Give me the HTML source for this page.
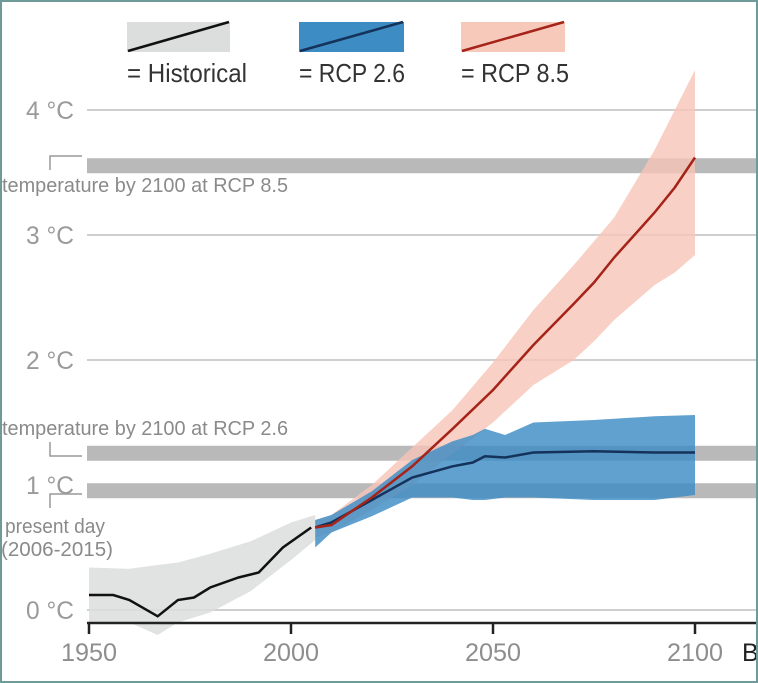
<!DOCTYPE html>
<html><head><meta charset="utf-8"><style>
html,body{margin:0;padding:0;background:#fff;}
body{width:758px;height:683px;overflow:hidden;position:relative;}
svg{position:absolute;left:0;top:0;}
text{font-family:"Liberation Sans Narrow","Liberation Sans",sans-serif;}
</style></head><body>
<svg id="chart" width="758" height="683" viewBox="0 0 758 683"></svg>
<script>
// ---- data ----
const yTicks = [0, 1, 2, 3, 4];
const yTickLabels = ["0 °C", "1 °C", "2 °C", "3 °C", "4 °C"];
const xTicks = [1950, 2000, 2050, 2100];
const xTickLabels = ["1950", "2000", "2050", "2100"];

const histYears = [1950, 1956, 1960, 1967, 1972, 1976, 1980, 1987, 1992, 1998, 2005];
const histMean  = [0.12, 0.12, 0.08, -0.05, 0.08, 0.10, 0.18, 0.26, 0.30, 0.50, 0.66];
const histBandYears = [1950, 1960, 1967, 1972, 1980, 1990, 2000, 2006];
const histUpper = [0.34, 0.33, 0.36, 0.38, 0.45, 0.55, 0.70, 0.76];
const histLower = [-0.10, -0.10, -0.20, -0.10, -0.02, 0.15, 0.40, 0.56];

const rcp85Years = [2006, 2010, 2020, 2030, 2040, 2050, 2060, 2070, 2075, 2080, 2090, 2095, 2100];
const rcp85Mean  = [0.66, 0.68, 0.90, 1.15, 1.45, 1.76, 2.12, 2.45, 2.62, 2.82, 3.18, 3.38, 3.62];
const rcp85Upper = [0.72, 0.76, 1.00, 1.30, 1.60, 1.98, 2.40, 2.76, 2.95, 3.14, 3.68, 4.00, 4.32];
const rcp85Lower = [0.58, 0.62, 0.80, 1.00, 1.25, 1.50, 1.80, 2.00, 2.15, 2.32, 2.60, 2.70, 2.84];

const rcp26Years = [2006, 2010, 2020, 2030, 2040, 2045, 2048, 2053, 2060, 2075, 2090, 2100];
const rcp26Mean  = [0.66, 0.70, 0.88, 1.06, 1.15, 1.18, 1.23, 1.22, 1.26, 1.27, 1.26, 1.26];
const rcp26Upper = [0.72, 0.76, 0.95, 1.20, 1.35, 1.40, 1.45, 1.40, 1.50, 1.52, 1.55, 1.56];
const rcp26Lower = [0.50, 0.62, 0.75, 0.90, 0.90, 0.88, 0.88, 0.90, 0.90, 0.88, 0.88, 0.92];

const bandLevels = [3.55, 1.25, 0.95];

// ---- scales ----
const X0 = 89, X1 = 695, Y0 = 610, PXDEG = 125;
function xs(yr){ return X0 + (yr - 1950) * (X1 - X0) / 150; }
function ys(v){ return Y0 - v * PXDEG; }

const svg = document.getElementById('chart');
const NS = 'http://www.w3.org/2000/svg';
function mk(tag, attrs, parent){
  const e = document.createElementNS(NS, tag);
  for (const k in attrs) e.setAttribute(k, attrs[k]);
  (parent || svg).appendChild(e);
  return e;
}
function linePath(xsArr, vals){
  return xsArr.map((yr,i)=>(i?'L':'M')+xs(yr).toFixed(1)+' '+ys(vals[i]).toFixed(1)).join(' ');
}
function bandPath(xsArr, up, lo){
  let d = xsArr.map((yr,i)=>(i?'L':'M')+xs(yr).toFixed(1)+' '+ys(up[i]).toFixed(1)).join(' ');
  for (let i = xsArr.length-1; i>=0; i--) d += ' L'+xs(xsArr[i]).toFixed(1)+' '+ys(lo[i]).toFixed(1);
  return d + ' Z';
}

// gridlines
yTicks.forEach((t,i)=>{
  const g = mk('line',{x1:87,x2:758,y1:ys(t),y2:ys(t),stroke:'#cfcfcf','stroke-width':2});
  
  
  const tl = mk('text',{x:26,y:ys(t)+9,'font-size':25,fill:'#9a9a9a',textLength:48,lengthAdjust:'spacingAndGlyphs'});
  tl.textContent = yTickLabels[i];
  
  
});

// reference bands
bandLevels.forEach((v,i)=>{
  const b = mk('rect',{x:87,y:ys(v)-8,width:671,height:15,fill:'#b9b9b9'});
  
  
});

// series bands
const hb = mk('path',{d:bandPath(histBandYears,histUpper,histLower),fill:'#dcdedd',opacity:0.85});


const b85 = mk('path',{d:bandPath(rcp85Years,rcp85Upper,rcp85Lower),fill:'#f7c4b6',opacity:0.8});


const b26 = mk('path',{d:bandPath(rcp26Years,rcp26Upper,rcp26Lower),fill:'#3d8cc4',opacity:0.82});



// lines
const hl = mk('path',{d:linePath(histYears,histMean),fill:'none',stroke:'#111','stroke-width':2.5});


const l26 = mk('path',{d:linePath(rcp26Years,rcp26Mean),fill:'none',stroke:'#14325a','stroke-width':2.5});


const l85 = mk('path',{d:linePath(rcp85Years,rcp85Mean),fill:'none',stroke:'#a52318','stroke-width':2.5});



// x axis
const ax = mk('line',{x1:87,x2:758,y1:623,y2:623,stroke:'#222','stroke-width':2.5});


xTicks.forEach((t,i)=>{
  const tk = mk('line',{x1:xs(t),x2:xs(t),y1:623,y2:634,stroke:'#222','stroke-width':2.5});
  
  
  const tl = mk('text',{x:xs(t)-28,y:661,'font-size':25,fill:'#8e8e8e',textLength:56,lengthAdjust:'spacingAndGlyphs'});
  tl.textContent = xTickLabels[i];
  
  
});
</script>

<svg width="758" height="683" viewBox="0 0 758 683" style="pointer-events:none">
  <g fill="none" stroke="#999" stroke-width="1.5">
    <path d="M82 156 H50 V170"/><path d="M82 456 H50 V442"/><path d="M82 494 H50 V508"/>
  </g>
  <text x="2" y="192" font-size="20" fill="#8a8a8a" textLength="286" lengthAdjust="spacingAndGlyphs">temperature by 2100 at RCP 8.5</text>
  <text x="2" y="435" font-size="20" fill="#8a8a8a" textLength="286" lengthAdjust="spacingAndGlyphs">temperature by 2100 at RCP 2.6</text>
  <text x="5" y="533" font-size="20" fill="#8a8a8a" textLength="100" lengthAdjust="spacingAndGlyphs">present day</text>
  <text x="1" y="556" font-size="20" fill="#8a8a8a" textLength="112" lengthAdjust="spacingAndGlyphs">(2006-2015)</text>
  <text x="742" y="661" font-size="25" fill="#222">B</text>
  <!-- legend -->
  <g>
    <rect x="127" y="22" width="103" height="30" fill="#dcdedd"/>
    <line x1="128" y1="51" x2="229" y2="22" stroke="#111" stroke-width="2.5"/>
    <rect x="299" y="22" width="105" height="30" fill="#3d8cc4"/>
    <line x1="300" y1="51" x2="403" y2="22" stroke="#14325a" stroke-width="2.5"/>
    <rect x="461" y="22" width="104" height="30" fill="#f7c9bb"/>
    <line x1="462" y1="51" x2="564" y2="22" stroke="#a52318" stroke-width="2.5"/>
    <text x="127" y="82" font-size="26" fill="#333" textLength="120" lengthAdjust="spacingAndGlyphs">= Historical</text>
    <text x="299" y="82" font-size="26" fill="#333" textLength="106" lengthAdjust="spacingAndGlyphs">= RCP 2.6</text>
    <text x="461" y="82" font-size="26" fill="#333" textLength="108" lengthAdjust="spacingAndGlyphs">= RCP 8.5</text>
  </g>
  <rect x="1" y="1" width="756" height="681" fill="none" stroke="#6f9a9a" stroke-width="2"/>
</svg>
</body></html>
